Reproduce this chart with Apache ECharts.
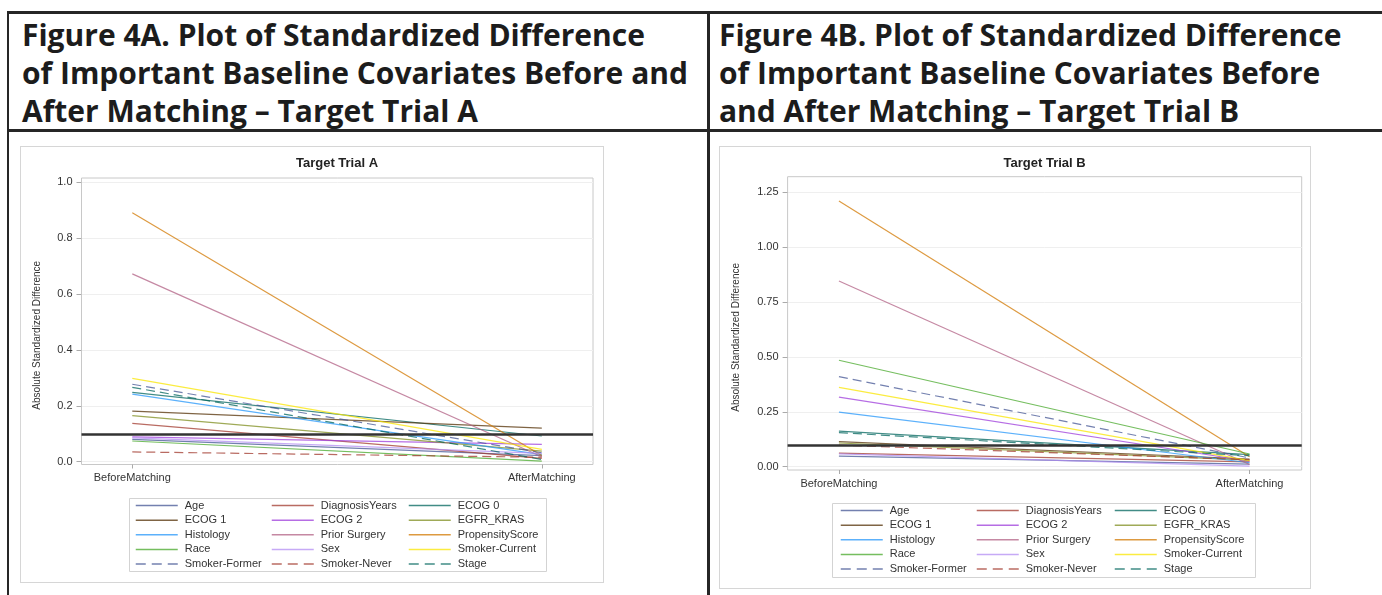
<!DOCTYPE html>
<html>
<head>
<meta charset="utf-8">
<title>Figure 4 - Standardized Difference</title>
<script src="https://cdn.jsdelivr.net/npm/echarts@6/dist/echarts.min.js"></script>
<style>
    body { margin: 0; background: #fff; width: 1382px; height: 595px; overflow: hidden; position: relative; }
    .rule { position: absolute; background: #262626; }
    .head {
        position: absolute; top: 16px; white-space: nowrap; color: #1c1c1c;
        font-family: 'Open Sans', sans-serif; font-weight: 700; font-size: 30px; line-height: 38px;
    }
    .chart { position: absolute; border: 1px solid #d6d6d6; }
</style>
</head>
<body>
<div class="rule" style="left:7px;top:11px;width:1375px;height:3px"></div>
<div class="rule" style="left:7px;top:129px;width:1375px;height:3px"></div>
<div class="rule" style="left:7px;top:11px;width:2px;height:584px"></div>
<div class="rule" style="left:707px;top:11px;width:3px;height:584px"></div>

<div class="head" style="left:22px">Figure 4A. Plot of Standardized Difference<br>of Important Baseline Covariates Before and<br>After Matching – Target Trial A</div>
<div class="head" style="left:719px">Figure 4B. Plot of Standardized Difference<br>of Important Baseline Covariates Before<br>and After Matching – Target Trial B</div>

<div id="chartA" class="chart" style="left:20px;top:146px;width:582px;height:435px"></div>
<div id="chartB" class="chart" style="left:719px;top:146px;width:590px;height:441px"></div>

<script>
// x categories (index 0 and 1 on the value axis)
const matchCategories = ['BeforeMatching', 'AfterMatching'];

// covariates, in legend order
const covariates = [
    'Age', 'DiagnosisYears', 'ECOG 0',
    'ECOG 1', 'ECOG 2', 'EGFR_KRAS',
    'Histology', 'Prior Surgery', 'PropensityScore',
    'Race', 'Sex', 'Smoker-Current',
    'Smoker-Former', 'Smoker-Never', 'Stage'
];
const lineColors = [
    '#445694', '#A23A2E', '#01665E',
    '#543005', '#9D3CDB', '#7F8E1F',
    '#2597FA', '#B26084', '#D17800',
    '#47A82A', '#B38EF3', '#F9E500',
    '#445694', '#A23A2E', '#01665E'
];
const dashedCovariates = ['Smoker-Former', 'Smoker-Never', 'Stage'];

// Target Trial A - absolute standardized difference
const trialABefore = [0.080, 0.137, 0.248, 0.181, 0.089, 0.165, 0.242, 0.672, 0.891, 0.074, 0.085, 0.298, 0.277, 0.035, 0.266];
const trialAAfter  = [0.022, 0.012, 0.092, 0.120, 0.062, 0.038, 0.025, 0.018, 0.022, 0.002, 0.030, 0.044, 0.032, 0.016, 0.008];

// Target Trial B - absolute standardized difference
const trialBBefore = [0.048, 0.062, 0.162, 0.114, 0.317, 0.108, 0.249, 0.846, 1.210, 0.485, 0.058, 0.361, 0.410, 0.098, 0.155];
const trialBAfter  = [0.012, 0.022, 0.055, 0.035, 0.025, 0.030, 0.018, 0.010, 0.045, 0.058, 0.003, 0.028, 0.040, 0.032, 0.050];

// y tick labels
const trialATicks = [0, 0.2, 0.4, 0.6, 0.8, 1.0];
const trialBTicks = [0, 0.25, 0.5, 0.75, 1.0, 1.25];

// balance threshold
const thresholdValue = 0.1;

const axisFont = 'Liberation Sans, Arial, sans-serif';

/**
 * Draws one "before / after matching" panel.
 */
function renderTrialChart(selector, cfg) {
    const chartDom = document.getElementById(selector);
    if (!chartDom) return;
    const myChart = echarts.init(chartDom, null, { renderer: 'canvas' });

    const series = covariates.map((name, i) => ({
        name: name,
        type: 'line',
        symbol: 'none',
        silent: true,
        data: [[0, cfg.before[i]], [1, cfg.after[i]]],
        lineStyle: {
            color: lineColors[i],
            width: 1.2,
            opacity: 0.75,
            type: dashedCovariates.includes(name) ? [9, 5] : 'solid'
        },
        itemStyle: { color: lineColors[i] },
        emphasis: { disabled: true }
    }));

    // reference line at 0.1
    series.push({
        name: 'threshold',
        type: 'line',
        data: [],
        silent: true,
        markLine: {
            silent: true,
            symbol: 'none',
            label: { show: false },
            lineStyle: { color: '#333', width: 2.6, type: 'solid' },
            data: [{ yAxis: thresholdValue }]
        }
    });

    // three legend columns, filled row by row; the marker circle is hidden
    const legends = [0, 1, 2].map(col => ({
        orient: 'vertical',
        left: cfg.legendLeft[col],
        top: cfg.legendTop,
        padding: 0,
        itemWidth: 42,
        itemHeight: 11,
        itemGap: 3.65,
        selectedMode: false,
        itemStyle: { opacity: 0, borderWidth: 0 },
        lineStyle: { width: 1.5 },
        textStyle: { fontFamily: axisFont, fontSize: 11, color: '#333', padding: [0, 0, 0, 2] },
        data: covariates.filter((n, i) => i % 3 === col).map(n => ({
            name: n,
            lineStyle: dashedCovariates.includes(n) ? { type: [10, 6] } : {}
        }))
    }));

    const option = {
        animation: false,
        graphic: [
            {
                type: 'text',
                x: cfg.titleX,
                y: cfg.titleY,
                style: {
                    text: cfg.title,
                    fontFamily: axisFont,
                    fontSize: 13,
                    fontWeight: 'bold',
                    fill: '#222',
                    textAlign: 'center',
                    textVerticalAlign: 'middle'
                }
            },
            {
                type: 'rect',
                shape: cfg.legendBox,
                style: { fill: 'none', stroke: '#d3d3d3', lineWidth: 1 },
                silent: true
            }
        ],
        legend: legends,
        grid: {
            show: true,
            left: cfg.grid.left,
            right: cfg.grid.right,
            top: cfg.grid.top,
            bottom: cfg.grid.bottom,
            borderColor: '#c8c8c8',
            borderWidth: 1,
            containLabel: false
        },
        xAxis: {
            type: 'value',
            min: cfg.xMin,
            max: cfg.xMax,
            axisLine: { show: false, onZero: false },
            splitLine: { show: false },
            axisTick: { show: true, customValues: [0, 1], length: 4, lineStyle: { color: '#aaa' } },
            axisLabel: {
                customValues: [0, 1],
                margin: 8,
                fontFamily: axisFont,
                fontSize: 11,
                color: '#333',
                formatter: v => matchCategories[Math.round(v)]
            }
        },
        yAxis: {
            type: 'value',
            min: cfg.yMin,
            max: cfg.yMax,
            name: 'Absolute Standardized Difference',
            nameLocation: 'middle',
            nameGap: cfg.nameGap,
            nameTextStyle: { fontFamily: axisFont, fontSize: 10, color: '#333', padding: [0, 28, 0, 0] },
            axisLine: { show: false, onZero: false },
            axisTick: { show: true, customValues: cfg.ticks, length: 5, lineStyle: { color: '#aaa' } },
            splitLine: { show: true, lineStyle: { color: '#efefef', width: 1 } },
            axisLabel: {
                customValues: cfg.ticks,
                margin: 9,
                fontFamily: axisFont,
                fontSize: 11,
                color: '#333',
                formatter: v => v.toFixed(cfg.tickDigits)
            }
        },
        series: series
    };

    myChart.setOption(option);
    return myChart;
}

renderTrialChart('chartA', {
    title: 'Target Trial A',
    before: trialABefore,
    after: trialAAfter,
    ticks: trialATicks,
    tickDigits: 1,
    yMin: -0.01,
    yMax: 1.015,
    xMin: -0.124,
    xMax: 1.125,
    grid: { left: 60.5, right: 10, top: 31, bottom: 117.5 },
    nameGap: 39.5,
    titleX: 316,
    titleY: 16.5,
    legendLeft: [114, 250, 387],
    legendTop: 353,
    legendBox: { x: 108.5, y: 351.5, width: 417, height: 73 }
});

renderTrialChart('chartB', {
    title: 'Target Trial B',
    before: trialBBefore,
    after: trialBAfter,
    ticks: trialBTicks,
    tickDigits: 2,
    yMin: -0.015,
    yMax: 1.321,
    xMin: -0.125,
    xMax: 1.127,
    grid: { left: 67.6, right: 8.3, top: 29.7, bottom: 118 },
    nameGap: 46,
    titleX: 324.6,
    titleY: 16.5,
    legendLeft: [120, 256, 394],
    legendTop: 358,
    legendBox: { x: 112.5, y: 356.5, width: 423, height: 74 }
});
</script>
</body>
</html>
